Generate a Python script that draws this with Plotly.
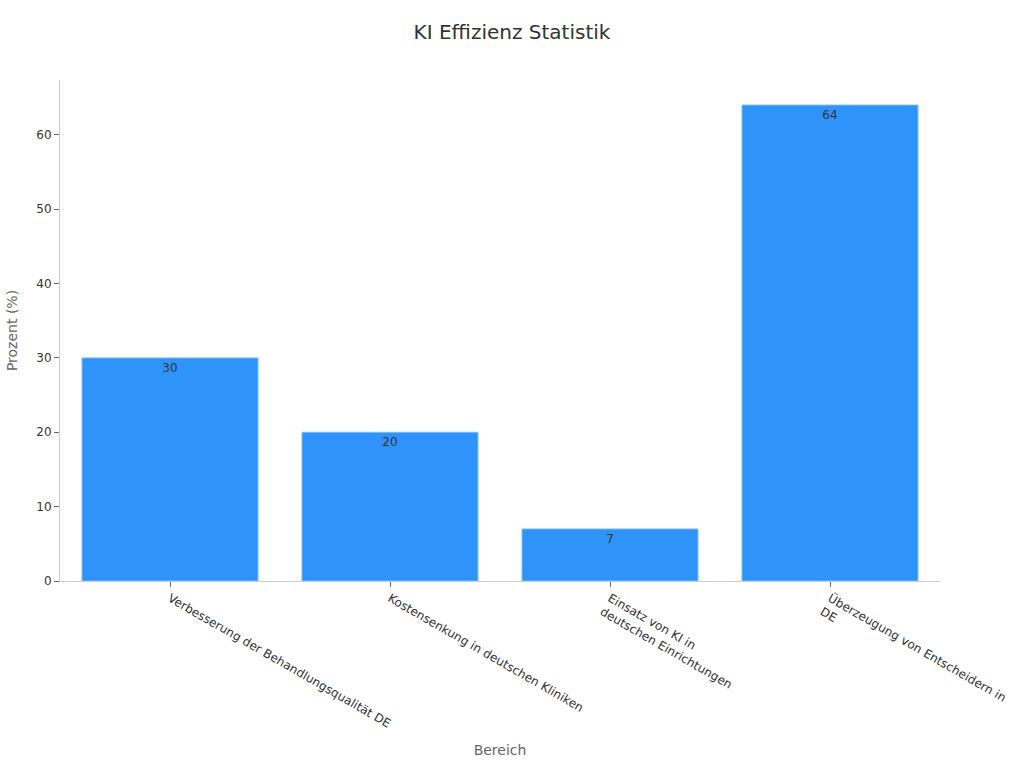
import plotly.graph_objects as go

# Bereich labels and percent values
categories = [
    "Verbesserung der Behandlungsqualität DE",
    "Kostensenkung in deutschen Kliniken",
    "Einsatz von KI in<br>deutschen Einrichtungen",
    "Überzeugung von Entscheidern in<br>DE",
]
values = [30, 20, 7, 64]

fig = go.Figure()
fig.add_trace(go.Bar(
    x=categories,
    y=values,
    text=values,
    textposition="inside",
    insidetextanchor="end",
    textfont=dict(color="#333333", size=12),
    marker=dict(color="#2E93FA", line=dict(color="#7fbcf7", width=1)),
))

fig.update_layout(
    title=dict(text="KI Effizienz Statistik", x=0.5, xanchor="center", y=0.967,
               font=dict(size=20, color="#333333")),
    font=dict(family="DejaVu Sans", size=12, color="#333333"),
    paper_bgcolor="white",
    plot_bgcolor="white",
    width=1024,
    height=768,
    margin=dict(l=60, r=84, t=80, b=187),
    bargap=0.2,
    showlegend=False,
    xaxis=dict(
        title=dict(text="Bereich", font=dict(size=14, color="#666666")),
        tickangle=30,
        showline=True,
        linecolor="#cccccc",
        ticks="outside",
        tickcolor="#666666",
        ticklen=5,
        showgrid=False,
    ),
    yaxis=dict(
        title=dict(text="Prozent (%)", font=dict(size=14, color="#666666")),
        showline=True,
        linecolor="#cccccc",
        ticks="outside",
        tickcolor="#666666",
        ticklen=5,
        showgrid=False,
        zeroline=False,
    ),
)

# drop the default 8px body margin so the figure sits at the page origin
fig.write_html("out.html", config={"displayModeBar": False},
               post_script="document.body.style.margin='0';")
